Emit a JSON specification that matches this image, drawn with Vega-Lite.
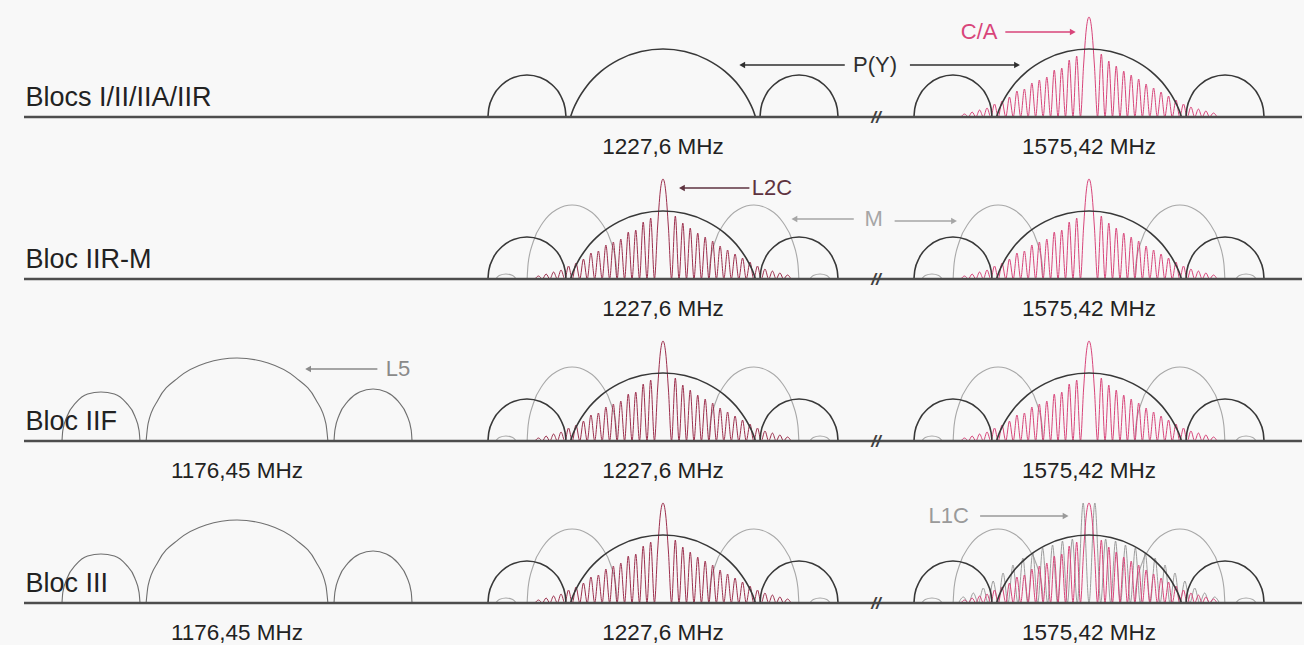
{
  "$schema": "https://vega.github.io/schema/vega-lite/v6.json",
  "background": "#f8f8f8",
  "padding": {"left": 22, "top": 0, "right": 0, "bottom": 0},
  "bounds": "flush",
  "config": {
    "view": {"stroke": null},
    "axis": {"disable": true},
    "font": "Liberation Sans",
    "locale": {"number": {"decimal": ",", "thousands": ".", "grouping": [3], "currency": ["", " MHz"]}}
  },
  "datasets": {
    "placement": [
      {"key": "P(Y)", "bloc": ["Blocs I/II/IIA/IIR", "Blocs I/II/IIA/IIR", "Bloc IIR-M", "Bloc IIR-M", "Bloc IIF", "Bloc IIF", "Bloc III", "Bloc III"], "band": [1227.6, 1575.42, 1227.6, 1575.42, 1227.6, 1575.42, 1227.6, 1575.42]},
      {"key": "M", "bloc": ["Bloc IIR-M", "Bloc IIR-M", "Bloc IIF", "Bloc IIF", "Bloc III", "Bloc III"], "band": [1227.6, 1575.42, 1227.6, 1575.42, 1227.6, 1575.42]},
      {"key": "L5", "bloc": ["Bloc IIF", "Bloc III"], "band": [1176.45, 1176.45]},
      {"key": "comb", "bloc": ["Blocs I/II/IIA/IIR", "Bloc IIR-M", "Bloc IIR-M", "Bloc IIF", "Bloc IIF", "Bloc III", "Bloc III"], "band": [1575.42, 1227.6, 1575.42, 1227.6, 1575.42, 1227.6, 1575.42]},
      {"key": "L1C", "bloc": ["Bloc III"], "band": [1575.42]},
      {"key": "axis", "bloc": ["Blocs I/II/IIA/IIR", "Blocs I/II/IIA/IIR", "Blocs I/II/IIA/IIR", "Bloc IIR-M", "Bloc IIR-M", "Bloc IIR-M", "Bloc IIF", "Bloc IIF", "Bloc IIF", "Bloc III", "Bloc III", "Bloc III"], "band": [1176.45, 1227.6, 1575.42, 1176.45, 1227.6, 1575.42, 1176.45, 1227.6, 1575.42, 1176.45, 1227.6, 1575.42]},
      {"key": "break", "bloc": ["Blocs I/II/IIA/IIR", "Bloc IIR-M", "Bloc IIF", "Bloc III"], "band": [1575.42, 1575.42, 1575.42, 1575.42]},
      {"key": "freq", "bloc": ["Blocs I/II/IIA/IIR", "Blocs I/II/IIA/IIR", "Bloc IIR-M", "Bloc IIR-M", "Bloc IIF", "Bloc IIF", "Bloc IIF", "Bloc III", "Bloc III", "Bloc III"], "band": [1227.6, 1575.42, 1227.6, 1575.42, 1176.45, 1227.6, 1575.42, 1176.45, 1227.6, 1575.42]},
      {"key": "name", "bloc": ["Blocs I/II/IIA/IIR", "Bloc IIR-M", "Bloc IIF", "Bloc III"], "band": [1176.45, 1176.45, 1176.45, 1176.45]},
      {"key": "n1", "bloc": ["Blocs I/II/IIA/IIR"], "band": [1227.6]},
      {"key": "n2", "bloc": ["Blocs I/II/IIA/IIR"], "band": [1575.42]},
      {"key": "n3", "bloc": ["Bloc IIR-M"], "band": [1227.6]},
      {"key": "n4", "bloc": ["Bloc IIR-M"], "band": [1575.42]},
      {"key": "n5", "bloc": ["Bloc IIF"], "band": [1176.45]},
      {"key": "n6", "bloc": ["Bloc III"], "band": [1575.42]}
    ],
    "spectra": [
      {"key": "axis"}, {"key": "break"}, {"key": "name"}, {"key": "freq", "f": 0},

      {"key": "n1", "kind": "note", "name": "P(Y)", "label": "P(Y)", "f": 23.56, "p": 52},
      {"key": "n1", "kind": "arrow", "name": "P(Y)", "f": 20.2, "f2": 8.8, "p": 52, "dir": "left"},
      {"key": "n2", "kind": "arrow", "name": "P(Y)", "f": -19.9, "f2": -8.0, "p": 52, "dir": "right"},
      {"key": "n2", "kind": "note", "name": "C/A", "label": "C/A", "f": -12.2, "p": 85},
      {"key": "n2", "kind": "arrow", "name": "C/A", "f": -9.3, "f2": -1.8, "p": 85, "dir": "right"},
      {"key": "n3", "kind": "note", "name": "L2C", "label": "L2C", "f": 12.1, "p": 91},
      {"key": "n3", "kind": "arrow", "name": "L2C", "f": 9.6, "f2": 2.1, "p": 91, "dir": "left"},
      {"key": "n3", "kind": "note", "name": "M", "label": "M", "f": 23.4, "p": 60},
      {"key": "n3", "kind": "arrow", "name": "M", "f": 21.2, "f2": 14.6, "p": 60, "dir": "left"},
      {"key": "n4", "kind": "arrow", "name": "M", "f": -21.6, "f2": -15.0, "p": 58, "dir": "right"},
      {"key": "n5", "kind": "note", "name": "L5", "label": "L5", "f": 17.9, "p": 72},
      {"key": "n5", "kind": "arrow", "name": "L5", "f": 15.6, "f2": 7.9, "p": 72, "dir": "left"},
      {"key": "n6", "kind": "note", "name": "L1C", "label": "L1C", "f": -15.6, "p": 87},
      {"key": "n6", "kind": "arrow", "name": "L1C", "f": -12.1, "f2": -2.6, "p": 87, "dir": "right"},

      {"key": "P(Y)", "part": "a", "f": -19.45, "p": 0}, {"key": "P(Y)", "part": "a", "f": -19.36, "p": 8.7}, {"key": "P(Y)", "part": "a", "f": -18.87, "p": 21}, {"key": "P(Y)", "part": "a", "f": -17.9, "p": 32.2}, {"key": "P(Y)", "part": "a", "f": -16.6, "p": 39.5}, {"key": "P(Y)", "part": "a", "f": -15.12, "p": 42}, {"key": "P(Y)", "part": "a", "f": -13.63, "p": 39.5}, {"key": "P(Y)", "part": "a", "f": -12.33, "p": 32.2}, {"key": "P(Y)", "part": "a", "f": -11.36, "p": 21}, {"key": "P(Y)", "part": "a", "f": -10.88, "p": 8.7}, {"key": "P(Y)", "part": "a", "f": -10.78, "p": 0},
      {"key": "P(Y)", "part": "b", "f": -10.28, "p": 0}, {"key": "P(Y)", "part": "b", "f": -10.0, "p": 7.2}, {"key": "P(Y)", "part": "b", "f": -9.44, "p": 17.7}, {"key": "P(Y)", "part": "b", "f": -8.44, "p": 31.3}, {"key": "P(Y)", "part": "b", "f": -6.89, "p": 45.6}, {"key": "P(Y)", "part": "b", "f": -4.89, "p": 57.4}, {"key": "P(Y)", "part": "b", "f": -2.44, "p": 65.5}, {"key": "P(Y)", "part": "b", "f": 0, "p": 68}, {"key": "P(Y)", "part": "b", "f": 2.44, "p": 65.5}, {"key": "P(Y)", "part": "b", "f": 4.89, "p": 57.4}, {"key": "P(Y)", "part": "b", "f": 6.89, "p": 45.6}, {"key": "P(Y)", "part": "b", "f": 8.44, "p": 31.3}, {"key": "P(Y)", "part": "b", "f": 9.44, "p": 17.7}, {"key": "P(Y)", "part": "b", "f": 10.0, "p": 7.2}, {"key": "P(Y)", "part": "b", "f": 10.28, "p": 0},
      {"key": "P(Y)", "part": "c", "f": 10.78, "p": 0}, {"key": "P(Y)", "part": "c", "f": 10.88, "p": 8.7}, {"key": "P(Y)", "part": "c", "f": 11.36, "p": 21}, {"key": "P(Y)", "part": "c", "f": 12.33, "p": 32.2}, {"key": "P(Y)", "part": "c", "f": 13.63, "p": 39.5}, {"key": "P(Y)", "part": "c", "f": 15.12, "p": 42}, {"key": "P(Y)", "part": "c", "f": 16.6, "p": 39.5}, {"key": "P(Y)", "part": "c", "f": 17.9, "p": 32.2}, {"key": "P(Y)", "part": "c", "f": 18.87, "p": 21}, {"key": "P(Y)", "part": "c", "f": 19.36, "p": 8.7}, {"key": "P(Y)", "part": "c", "f": 19.45, "p": 0},

      {"key": "L5", "part": "a", "f": -19.45, "p": 0}, {"key": "L5", "part": "a", "f": -19.36, "p": 10.4}, {"key": "L5", "part": "a", "f": -18.87, "p": 25}, {"key": "L5", "part": "a", "f": -17.9, "p": 38.3}, {"key": "L5", "part": "a", "f": -16.6, "p": 47}, {"key": "L5", "part": "a", "f": -15.12, "p": 49}, {"key": "L5", "part": "a", "f": -13.63, "p": 47}, {"key": "L5", "part": "a", "f": -12.33, "p": 38.3}, {"key": "L5", "part": "a", "f": -11.36, "p": 25}, {"key": "L5", "part": "a", "f": -10.88, "p": 10.4}, {"key": "L5", "part": "a", "f": -10.78, "p": 0},
      {"key": "L5", "part": "b", "f": -10.1, "p": 0}, {"key": "L5", "part": "b", "f": -9.88, "p": 17.3}, {"key": "L5", "part": "b", "f": -8.75, "p": 41.5}, {"key": "L5", "part": "b", "f": -6.49, "p": 63.6}, {"key": "L5", "part": "b", "f": -3.45, "p": 78}, {"key": "L5", "part": "b", "f": 0, "p": 83}, {"key": "L5", "part": "b", "f": 3.45, "p": 78}, {"key": "L5", "part": "b", "f": 6.49, "p": 63.6}, {"key": "L5", "part": "b", "f": 8.75, "p": 41.5}, {"key": "L5", "part": "b", "f": 9.88, "p": 17.3}, {"key": "L5", "part": "b", "f": 10.1, "p": 0},
      {"key": "L5", "part": "c", "f": 10.78, "p": 0}, {"key": "L5", "part": "c", "f": 10.88, "p": 10.8}, {"key": "L5", "part": "c", "f": 11.36, "p": 26}, {"key": "L5", "part": "c", "f": 12.33, "p": 39.8}, {"key": "L5", "part": "c", "f": 13.63, "p": 48.9}, {"key": "L5", "part": "c", "f": 15.12, "p": 52}, {"key": "L5", "part": "c", "f": 16.6, "p": 48.9}, {"key": "L5", "part": "c", "f": 17.9, "p": 39.8}, {"key": "L5", "part": "c", "f": 18.87, "p": 26}, {"key": "L5", "part": "c", "f": 19.36, "p": 10.8}, {"key": "L5", "part": "c", "f": 19.45, "p": 0},

      {"key": "M", "part": "a", "f": -15.1, "p": 0}, {"key": "M", "part": "a", "f": -14.99, "p": 15.4}, {"key": "M", "part": "a", "f": -14.43, "p": 37}, {"key": "M", "part": "a", "f": -13.32, "p": 56.7}, {"key": "M", "part": "a", "f": -11.81, "p": 69.6}, {"key": "M", "part": "a", "f": -10.1, "p": 74}, {"key": "M", "part": "a", "f": -8.39, "p": 69.6}, {"key": "M", "part": "a", "f": -6.89, "p": 56.7}, {"key": "M", "part": "a", "f": -5.77, "p": 37}, {"key": "M", "part": "a", "f": -5.21, "p": 15.4}, {"key": "M", "part": "a", "f": -5.1, "p": 0},
      {"key": "M", "part": "b", "f": 5.1, "p": 0}, {"key": "M", "part": "b", "f": 5.21, "p": 15.4}, {"key": "M", "part": "b", "f": 5.77, "p": 37}, {"key": "M", "part": "b", "f": 6.89, "p": 56.7}, {"key": "M", "part": "b", "f": 8.39, "p": 69.6}, {"key": "M", "part": "b", "f": 10.1, "p": 74}, {"key": "M", "part": "b", "f": 11.81, "p": 69.6}, {"key": "M", "part": "b", "f": 13.32, "p": 56.7}, {"key": "M", "part": "b", "f": 14.43, "p": 37}, {"key": "M", "part": "b", "f": 14.99, "p": 15.4}, {"key": "M", "part": "b", "f": 15.1, "p": 0},
      {"key": "M", "part": "d", "f": -18.6, "p": 0}, {"key": "M", "part": "d", "f": -18.2, "p": 3.5}, {"key": "M", "part": "d", "f": -17.45, "p": 5}, {"key": "M", "part": "d", "f": -16.7, "p": 3.5}, {"key": "M", "part": "d", "f": -16.3, "p": 0},
      {"key": "M", "part": "e", "f": 16.3, "p": 0}, {"key": "M", "part": "e", "f": 16.7, "p": 3.5}, {"key": "M", "part": "e", "f": 17.45, "p": 5}, {"key": "M", "part": "e", "f": 18.2, "p": 3.5}, {"key": "M", "part": "e", "f": 18.6, "p": 0},

      {"key": "comb", "part": "s", "f": -14.23, "p": 0}, {"key": "comb", "part": "s", "f": -13.82, "p": 3}, {"key": "comb", "part": "s", "f": -13.4, "p": 0}, {"key": "comb", "part": "s", "f": -12.99, "p": 5}, {"key": "comb", "part": "s", "f": -12.57, "p": 0}, {"key": "comb", "part": "s", "f": -12.16, "p": 7}, {"key": "comb", "part": "s", "f": -11.74, "p": 0}, {"key": "comb", "part": "s", "f": -11.33, "p": 9}, {"key": "comb", "part": "s", "f": -10.91, "p": 0}, {"key": "comb", "part": "s", "f": -10.5, "p": 13}, {"key": "comb", "part": "s", "f": -10.08, "p": 0}, {"key": "comb", "part": "s", "f": -9.67, "p": 16}, {"key": "comb", "part": "s", "f": -9.25, "p": 0}, {"key": "comb", "part": "s", "f": -8.84, "p": 20}, {"key": "comb", "part": "s", "f": -8.42, "p": 0}, {"key": "comb", "part": "s", "f": -8.01, "p": 26}, {"key": "comb", "part": "s", "f": -7.59, "p": 0}, {"key": "comb", "part": "s", "f": -7.18, "p": 28}, {"key": "comb", "part": "s", "f": -6.76, "p": 0}, {"key": "comb", "part": "s", "f": -6.35, "p": 34}, {"key": "comb", "part": "s", "f": -5.93, "p": 0}, {"key": "comb", "part": "s", "f": -5.52, "p": 37}, {"key": "comb", "part": "s", "f": -5.1, "p": 0}, {"key": "comb", "part": "s", "f": -4.69, "p": 40}, {"key": "comb", "part": "s", "f": -4.27, "p": 0}, {"key": "comb", "part": "s", "f": -3.86, "p": 47}, {"key": "comb", "part": "s", "f": -3.44, "p": 0}, {"key": "comb", "part": "s", "f": -3.03, "p": 49}, {"key": "comb", "part": "s", "f": -2.61, "p": 0}, {"key": "comb", "part": "s", "f": -2.2, "p": 57}, {"key": "comb", "part": "s", "f": -1.78, "p": 0}, {"key": "comb", "part": "s", "f": -1.37, "p": 61}, {"key": "comb", "part": "s", "f": -0.95, "p": 0},
      {"key": "comb", "part": "s", "f": -0.6, "p": 52}, {"key": "comb", "part": "s", "f": -0.3, "p": 88}, {"key": "comb", "part": "s", "f": 0, "p": 100}, {"key": "comb", "part": "s", "f": 0.3, "p": 88}, {"key": "comb", "part": "s", "f": 0.6, "p": 52},
      {"key": "comb", "part": "s", "f": 0.95, "p": 0}, {"key": "comb", "part": "s", "f": 1.37, "p": 63}, {"key": "comb", "part": "s", "f": 1.78, "p": 0}, {"key": "comb", "part": "s", "f": 2.2, "p": 56}, {"key": "comb", "part": "s", "f": 2.61, "p": 0}, {"key": "comb", "part": "s", "f": 3.03, "p": 51}, {"key": "comb", "part": "s", "f": 3.44, "p": 0}, {"key": "comb", "part": "s", "f": 3.86, "p": 46}, {"key": "comb", "part": "s", "f": 4.27, "p": 0}, {"key": "comb", "part": "s", "f": 4.69, "p": 42}, {"key": "comb", "part": "s", "f": 5.1, "p": 0}, {"key": "comb", "part": "s", "f": 5.52, "p": 38}, {"key": "comb", "part": "s", "f": 5.93, "p": 0}, {"key": "comb", "part": "s", "f": 6.35, "p": 33}, {"key": "comb", "part": "s", "f": 6.76, "p": 0}, {"key": "comb", "part": "s", "f": 7.18, "p": 29}, {"key": "comb", "part": "s", "f": 7.59, "p": 0}, {"key": "comb", "part": "s", "f": 8.01, "p": 25}, {"key": "comb", "part": "s", "f": 8.42, "p": 0}, {"key": "comb", "part": "s", "f": 8.84, "p": 21}, {"key": "comb", "part": "s", "f": 9.25, "p": 0}, {"key": "comb", "part": "s", "f": 9.67, "p": 17}, {"key": "comb", "part": "s", "f": 10.08, "p": 0}, {"key": "comb", "part": "s", "f": 10.5, "p": 13}, {"key": "comb", "part": "s", "f": 10.91, "p": 0}, {"key": "comb", "part": "s", "f": 11.33, "p": 10}, {"key": "comb", "part": "s", "f": 11.74, "p": 0}, {"key": "comb", "part": "s", "f": 12.16, "p": 8}, {"key": "comb", "part": "s", "f": 12.57, "p": 0}, {"key": "comb", "part": "s", "f": 12.99, "p": 6}, {"key": "comb", "part": "s", "f": 13.4, "p": 0}, {"key": "comb", "part": "s", "f": 13.82, "p": 4}, {"key": "comb", "part": "s", "f": 14.23, "p": 0},

      {"key": "L1C", "part": "s", "f": -14.5, "p": 0}, {"key": "L1C", "part": "s", "f": -13.95, "p": 6}, {"key": "L1C", "part": "s", "f": -13.4, "p": 0}, {"key": "L1C", "part": "s", "f": -12.85, "p": 10}, {"key": "L1C", "part": "s", "f": -12.3, "p": 0}, {"key": "L1C", "part": "s", "f": -11.75, "p": 15}, {"key": "L1C", "part": "s", "f": -11.2, "p": 0}, {"key": "L1C", "part": "s", "f": -10.65, "p": 22}, {"key": "L1C", "part": "s", "f": -10.1, "p": 0}, {"key": "L1C", "part": "s", "f": -9.55, "p": 30}, {"key": "L1C", "part": "s", "f": -9.0, "p": 0}, {"key": "L1C", "part": "s", "f": -8.45, "p": 38}, {"key": "L1C", "part": "s", "f": -7.9, "p": 0}, {"key": "L1C", "part": "s", "f": -7.35, "p": 45}, {"key": "L1C", "part": "s", "f": -6.8, "p": 0}, {"key": "L1C", "part": "s", "f": -6.25, "p": 50}, {"key": "L1C", "part": "s", "f": -5.7, "p": 0}, {"key": "L1C", "part": "s", "f": -5.15, "p": 55}, {"key": "L1C", "part": "s", "f": -4.6, "p": 0}, {"key": "L1C", "part": "s", "f": -4.05, "p": 58}, {"key": "L1C", "part": "s", "f": -3.5, "p": 0}, {"key": "L1C", "part": "s", "f": -2.95, "p": 62}, {"key": "L1C", "part": "s", "f": -2.4, "p": 0}, {"key": "L1C", "part": "s", "f": -1.85, "p": 64}, {"key": "L1C", "part": "s", "f": -1.3, "p": 0},
      {"key": "L1C", "part": "s", "f": -0.65, "p": 100}, {"key": "L1C", "part": "s", "f": 0, "p": 0}, {"key": "L1C", "part": "s", "f": 0.65, "p": 100},
      {"key": "L1C", "part": "s", "f": 1.3, "p": 0}, {"key": "L1C", "part": "s", "f": 1.85, "p": 64}, {"key": "L1C", "part": "s", "f": 2.4, "p": 0}, {"key": "L1C", "part": "s", "f": 2.95, "p": 62}, {"key": "L1C", "part": "s", "f": 3.5, "p": 0}, {"key": "L1C", "part": "s", "f": 4.05, "p": 58}, {"key": "L1C", "part": "s", "f": 4.6, "p": 0}, {"key": "L1C", "part": "s", "f": 5.15, "p": 55}, {"key": "L1C", "part": "s", "f": 5.7, "p": 0}, {"key": "L1C", "part": "s", "f": 6.25, "p": 50}, {"key": "L1C", "part": "s", "f": 6.8, "p": 0}, {"key": "L1C", "part": "s", "f": 7.35, "p": 45}, {"key": "L1C", "part": "s", "f": 7.9, "p": 0}, {"key": "L1C", "part": "s", "f": 8.45, "p": 38}, {"key": "L1C", "part": "s", "f": 9.0, "p": 0}, {"key": "L1C", "part": "s", "f": 9.55, "p": 30}, {"key": "L1C", "part": "s", "f": 10.1, "p": 0}, {"key": "L1C", "part": "s", "f": 10.65, "p": 22}, {"key": "L1C", "part": "s", "f": 11.2, "p": 0}, {"key": "L1C", "part": "s", "f": 11.75, "p": 15}, {"key": "L1C", "part": "s", "f": 12.3, "p": 0}, {"key": "L1C", "part": "s", "f": 12.85, "p": 10}, {"key": "L1C", "part": "s", "f": 13.4, "p": 0}, {"key": "L1C", "part": "s", "f": 13.95, "p": 6}, {"key": "L1C", "part": "s", "f": 14.5, "p": 0}
    ]
  },
  "data": {"name": "spectra"},
  "transform": [
    {"lookup": "key", "from": {"data": {"name": "placement"}, "key": "key", "fields": ["bloc", "band"]}},
    {"flatten": ["bloc", "band"]}
  ],
  "facet": {
    "row": {"field": "bloc", "type": "nominal", "sort": ["Blocs I/II/IIA/IIR", "Bloc IIR-M", "Bloc IIF", "Bloc III"], "header": {"title": null, "labels": false}},
    "column": {"field": "band", "type": "ordinal", "sort": "ascending", "header": {"title": null, "labels": false}}
  },
  "spacing": {"row": 5, "column": 0},
  "spec": {
    "width": 426,
    "height": 157,
    "layer": [
      {
        "transform": [{"filter": "datum.key === 'M'"}],
        "mark": {"type": "line", "interpolate": "monotone", "stroke": "#a8a8a8", "strokeWidth": 1.1},
        "encoding": {
          "x": {"field": "f", "type": "quantitative", "scale": {"domain": [-23.67, 23.67], "nice": false, "zero": false}, "axis": null},
          "y": {"field": "p", "type": "quantitative", "scale": {"domain": [-40, 117], "nice": false, "zero": false}, "axis": null},
          "detail": {"field": "part"}
        }
      },
      {
        "transform": [{"filter": "datum.key === 'L1C'"}],
        "mark": {"type": "line", "interpolate": "monotone", "stroke": "#929292", "strokeWidth": 0.9},
        "encoding": {
          "x": {"field": "f", "type": "quantitative", "scale": {"domain": [-23.67, 23.67], "nice": false, "zero": false}, "axis": null},
          "y": {"field": "p", "type": "quantitative", "scale": {"domain": [-40, 117], "nice": false, "zero": false}, "axis": null}
        }
      },
      {
        "transform": [{"filter": "datum.key === 'comb'"}],
        "mark": {"type": "line", "interpolate": "monotone", "strokeWidth": 1.0},
        "encoding": {
          "x": {"field": "f", "type": "quantitative", "scale": {"domain": [-23.67, 23.67], "nice": false, "zero": false}, "axis": null},
          "y": {"field": "p", "type": "quantitative", "scale": {"domain": [-40, 117], "nice": false, "zero": false}, "axis": null},
          "stroke": {"condition": {"test": "datum.band === 1227.6", "value": "#9c2f4d"}, "value": "#d8457a"}
        }
      },
      {
        "transform": [{"filter": "datum.key === 'P(Y)'"}],
        "mark": {"type": "line", "interpolate": "monotone", "stroke": "#383838", "strokeWidth": 1.6},
        "encoding": {
          "x": {"field": "f", "type": "quantitative", "scale": {"domain": [-23.67, 23.67], "nice": false, "zero": false}, "axis": null},
          "y": {"field": "p", "type": "quantitative", "scale": {"domain": [-40, 117], "nice": false, "zero": false}, "axis": null},
          "detail": {"field": "part"}
        }
      },
      {
        "transform": [{"filter": "datum.key === 'L5'"}],
        "mark": {"type": "line", "interpolate": "monotone", "stroke": "#6f6f6f", "strokeWidth": 1.1},
        "encoding": {
          "x": {"field": "f", "type": "quantitative", "scale": {"domain": [-23.67, 23.67], "nice": false, "zero": false}, "axis": null},
          "y": {"field": "p", "type": "quantitative", "scale": {"domain": [-40, 117], "nice": false, "zero": false}, "axis": null},
          "detail": {"field": "part"}
        }
      },
      {
        "transform": [{"filter": "datum.key === 'axis'"}],
        "mark": {"type": "rule", "stroke": "#4d4d4d", "strokeWidth": 2.4},
        "encoding": {
          "y": {"datum": 0, "type": "quantitative", "scale": {"domain": [-40, 117], "nice": false, "zero": false}, "axis": null}
        }
      },
      {
        "transform": [{"filter": "datum.key === 'break'"}],
        "mark": {"type": "text", "text": "//", "fontSize": 17, "fontWeight": "bold", "fontStyle": "italic", "color": "#404040", "baseline": "middle", "align": "center", "dy": 1},
        "encoding": {
          "x": {"datum": -23.67, "type": "quantitative", "scale": {"domain": [-23.67, 23.67], "nice": false, "zero": false}, "axis": null},
          "y": {"datum": 0, "type": "quantitative", "scale": {"domain": [-40, 117], "nice": false, "zero": false}, "axis": null}
        }
      },
      {
        "transform": [{"filter": "datum.key === 'freq'"}],
        "mark": {"type": "text", "fontSize": 22.5, "color": "#222222", "baseline": "middle", "align": "center", "dy": 30},
        "encoding": {
          "x": {"field": "f", "type": "quantitative", "scale": {"domain": [-23.67, 23.67], "nice": false, "zero": false}, "axis": null},
          "y": {"datum": 0, "type": "quantitative", "scale": {"domain": [-40, 117], "nice": false, "zero": false}, "axis": null},
          "text": {"field": "band", "type": "quantitative", "format": "$.2~f"}
        }
      },
      {
        "transform": [{"filter": "datum.key === 'name'"}],
        "mark": {"type": "text", "fontSize": 27, "color": "#222222", "baseline": "alphabetic", "align": "left", "dy": -11},
        "encoding": {
          "x": {"datum": -23.5, "type": "quantitative", "scale": {"domain": [-23.67, 23.67], "nice": false, "zero": false}, "axis": null},
          "y": {"datum": 0, "type": "quantitative", "scale": {"domain": [-40, 117], "nice": false, "zero": false}, "axis": null},
          "text": {"field": "bloc", "type": "nominal"}
        }
      },
      {
        "transform": [{"filter": "datum.kind === 'arrow'"}],
        "mark": {"type": "rule", "strokeWidth": 1.6},
        "encoding": {
          "x": {"field": "f", "type": "quantitative", "scale": {"domain": [-23.67, 23.67], "nice": false, "zero": false}, "axis": null},
          "x2": {"field": "f2"},
          "y": {"field": "p", "type": "quantitative", "scale": {"domain": [-40, 117], "nice": false, "zero": false}, "axis": null},
          "color": {"field": "name", "type": "nominal", "scale": {"domain": ["P(Y)", "C/A", "L2C", "M", "L5", "L1C"], "range": ["#2f2f2f", "#d8457a", "#5e3340", "#a6a6a6", "#8a8a8a", "#9a9a9a"]}, "legend": null}
        }
      },
      {
        "transform": [{"filter": "datum.kind === 'arrow'"}],
        "mark": {"type": "point", "filled": true, "size": 45, "opacity": 1},
        "encoding": {
          "x": {"field": "f2", "type": "quantitative", "scale": {"domain": [-23.67, 23.67], "nice": false, "zero": false}, "axis": null},
          "y": {"field": "p", "type": "quantitative", "scale": {"domain": [-40, 117], "nice": false, "zero": false}, "axis": null},
          "shape": {"field": "dir", "type": "nominal", "scale": {"domain": ["left", "right"], "range": ["triangle-left", "triangle-right"]}, "legend": null},
          "color": {"field": "name", "type": "nominal", "scale": {"domain": ["P(Y)", "C/A", "L2C", "M", "L5", "L1C"], "range": ["#2f2f2f", "#d8457a", "#5e3340", "#a6a6a6", "#8a8a8a", "#9a9a9a"]}, "legend": null}
        }
      },
      {
        "transform": [{"filter": "datum.kind === 'note'"}],
        "mark": {"type": "text", "fontSize": 22, "baseline": "middle", "align": "center"},
        "encoding": {
          "x": {"field": "f", "type": "quantitative", "scale": {"domain": [-23.67, 23.67], "nice": false, "zero": false}, "axis": null},
          "y": {"field": "p", "type": "quantitative", "scale": {"domain": [-40, 117], "nice": false, "zero": false}, "axis": null},
          "text": {"field": "label", "type": "nominal"},
          "color": {"field": "name", "type": "nominal", "scale": {"domain": ["P(Y)", "C/A", "L2C", "M", "L5", "L1C"], "range": ["#2f2f2f", "#d8457a", "#5e3340", "#a6a6a6", "#8a8a8a", "#9a9a9a"]}, "legend": null}
        }
      }
    ]
  }
}
